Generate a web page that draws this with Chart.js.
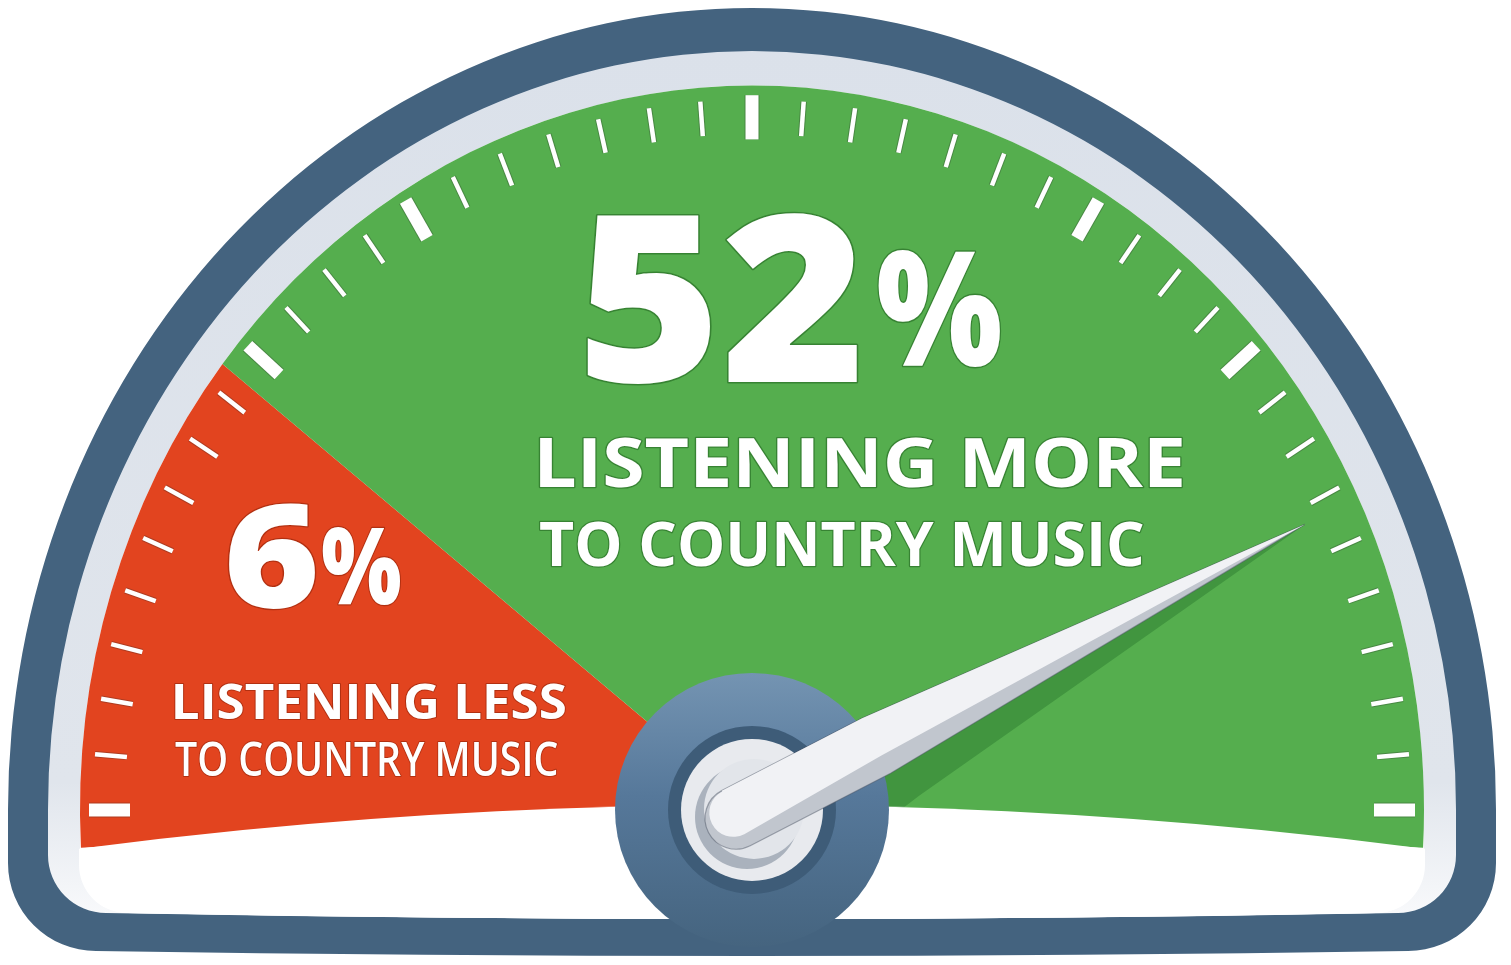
<!DOCTYPE html>
<html><head><meta charset="utf-8">
<script src="https://cdn.jsdelivr.net/npm/chart.js@4.4.1/dist/chart.umd.min.js"></script>
<style>html,body{margin:0;padding:0;background:#fff;overflow:hidden}canvas{display:block}</style>
</head><body>
<canvas id="c" width="1511" height="965"></canvas>
<script>
// ---- data ----
const categories = ['LISTENING LESS', 'LISTENING MORE'];
const subLabels = ['TO COUNTRY MUSIC', 'TO COUNTRY MUSIC'];
const shares = [6, 52];                 // percentages shown
const zoneArcDeg = [41, 145];           // red zone, green zone (degrees of dial face)
const needleDeg = 154.4;                // needle position on 0..180 dial
const tickCount = 41;                   // dial ticks, 4.5 deg apart
const tickStepDeg = 4.5;
const majorTicks = [0, 9, 13, 20, 27, 31, 40];

const zoneColors = ['#e2441f', '#55ae4e'];
const KY = 1.078;          // vertical stretch of the dial
const PAD_DEG = 3;         // face extends slightly below horizontal

function domePath(ctx, cx, cy, r, bottomY, sag, corner) {
  ctx.beginPath();
  ctx.ellipse(cx, cy, r, r * KY, 0, Math.PI, 2 * Math.PI, false);
  ctx.lineTo(cx + r, bottomY - corner);
  ctx.arcTo(cx + r, bottomY, cx + r - corner, bottomY, corner);
  ctx.quadraticCurveTo(cx, bottomY + 2 * sag, cx - r + corner, bottomY);
  ctx.arcTo(cx - r, bottomY, cx - r, bottomY - corner, corner);
  ctx.closePath();
}

function fitText(ctx, txt, l, t, r, b, weight, color, stroke, sw) {
  ctx.save();
  ctx.textAlign = 'left'; ctx.textBaseline = 'alphabetic';
  ctx.font = weight + ' 100px "Open Sans"';
  let m = ctx.measureText(txt);
  const h = m.actualBoundingBoxAscent + m.actualBoundingBoxDescent;
  const size = 100 * (b - t) / h;
  ctx.font = weight + ' ' + size.toFixed(2) + 'px "Open Sans"';
  m = ctx.measureText(txt);
  const w = m.actualBoundingBoxLeft + m.actualBoundingBoxRight;
  const sx = (r - l) / w;
  ctx.translate(l + m.actualBoundingBoxLeft * sx, t + m.actualBoundingBoxAscent);
  ctx.scale(sx, 1);
  if (stroke) { ctx.lineJoin = 'round'; ctx.lineWidth = sw; ctx.strokeStyle = stroke; ctx.strokeText(txt, 0, 0); }
  ctx.fillStyle = color; ctx.fillText(txt, 0, 0);
  ctx.restore();
}

function geom(chart) {
  const a = chart.getDatasetMeta(0).data[0];
  return { cx: a.x, cy: a.y, R: a.outerRadius };
}

const gaugePlugin = {
  id: 'gauge',
  beforeDatasetsDraw(chart) {
    const ctx = chart.ctx; const { cx, cy, R } = geom(chart);
    // dark bezel
    domePath(ctx, cx, cy, R + 72, 951, 5, 88);
    ctx.fillStyle = '#44637f'; ctx.fill();
    // light ring
    domePath(ctx, cx, cy, R + 32, 913, 6, 58);
    const lg = ctx.createLinearGradient(0, 40, 0, 913);
    lg.addColorStop(0, '#dbe1ea'); lg.addColorStop(0.85, '#e0e5ec'); lg.addColorStop(1, '#f8f9fb');
    ctx.fillStyle = lg; ctx.fill();
    // white face
    domePath(ctx, cx, cy, R, 913, 6, 48);
    ctx.fillStyle = '#ffffff'; ctx.fill();
    // stretch for the coloured face
    ctx.save();
    ctx.translate(cx, cy); ctx.scale(1, KY); ctx.translate(-cx, -cy);
  },
  afterDatasetsDraw(chart) {
    const ctx = chart.ctx;
    ctx.restore();
    const { cx, cy, R } = geom(chart);
    const th = Math.PI - needleDeg * Math.PI / 180;
    const rN = 613;
    const P = { x: cx, y: cy };
    const T = { x: cx + rN * Math.cos(th), y: cy - rN * Math.sin(th) * KY };
    const L = Math.hypot(T.x - P.x, T.y - P.y);
    const u = { x: (T.x - P.x) / L, y: (T.y - P.y) / L };
    const n = { x: -u.y, y: u.x };
    const pt = (a, b) => ({ x: P.x + u.x * a + n.x * b, y: P.y + u.y * a + n.y * b });

    // needle shadow on the face
    ctx.save();
    ctx.beginPath(); ctx.ellipse(cx, cy, R, R * KY, 0, Math.PI, 2 * Math.PI); ctx.closePath(); ctx.clip();
    ctx.beginPath();
    let q = pt(100, 24); ctx.moveTo(q.x, q.y);
    ctx.lineTo(T.x, T.y);
    q = pt(155, 64); ctx.lineTo(q.x, q.y);
    q = pt(100, 74); ctx.lineTo(q.x, q.y);
    ctx.closePath(); ctx.fillStyle = '#41953f'; ctx.fill();
    ctx.restore();

    // white area below the curved lower edge of the face
    ctx.save();
    domePath(ctx, cx, cy, R + 1, 913, 6, 48); ctx.clip();
    const BR = 5195;
    ctx.beginPath(); ctx.arc(cx, cy - 5 + BR, BR, 0, 2 * Math.PI);
    ctx.fillStyle = '#ffffff'; ctx.fill();
    ctx.restore();

    // dial ticks
    for (let i = 0; i < tickCount; i++) {
      const g = i * tickStepDeg * Math.PI / 180;
      const a = Math.PI - g;
      const major = majorTicks.includes(i);
      const r1 = major ? 622 : 627, r2 = major ? 663 : 659;
      const x1 = cx + r1 * Math.cos(a), y1 = cy - r1 * Math.sin(a) * KY;
      const x2 = cx + r2 * Math.cos(a), y2 = cy - r2 * Math.sin(a) * KY;
      const w = major ? 13 : 4.5;
      ctx.lineCap = 'butt';
      ctx.beginPath(); ctx.moveTo(x1, y1); ctx.lineTo(x2, y2);
      ctx.strokeStyle = 'rgba(40,40,40,0.28)'; ctx.lineWidth = w + 2; ctx.stroke();
      ctx.beginPath(); ctx.moveTo(x1, y1); ctx.lineTo(x2, y2);
      ctx.strokeStyle = '#ffffff'; ctx.lineWidth = w; ctx.stroke();
    }

    // texts
    const gS = 'rgba(20,80,20,0.45)', rS = 'rgba(120,25,0,0.45)';
    fitText(ctx, String(shares[1]), 587, 213, 857, 383, 800, '#fff', gS, 3);
    fitText(ctx, '%', 878, 250, 1000, 367, 800, '#fff', gS, 3);
    fitText(ctx, categories[1], 540, 437, 1182, 488, 700, '#fff', gS, 2.5);
    fitText(ctx, subLabels[1], 540, 521, 1143, 566, 700, '#fff', gS, 2.5);
    fitText(ctx, String(shares[0]), 228, 503, 315, 608, 800, '#fff', rS, 2.5);
    fitText(ctx, '%', 322, 527, 400, 604, 800, '#fff', rS, 2.5);
    fitText(ctx, categories[0], 175, 683, 565, 719, 700, '#fff', rS, 2);
    fitText(ctx, subLabels[0], 175, 741, 557, 775, 600, '#fff', rS, 2);

    // hub
    const hg = ctx.createLinearGradient(0, cy - 137, 0, cy + 137);
    hg.addColorStop(0, '#7494b2'); hg.addColorStop(0.45, '#56789a'); hg.addColorStop(1, '#45647f');
    ctx.beginPath(); ctx.arc(cx, cy, 137, 0, 2 * Math.PI); ctx.fillStyle = hg; ctx.fill();
    ctx.beginPath(); ctx.arc(cx, cy, 84, 0, 2 * Math.PI); ctx.fillStyle = '#3e5c78'; ctx.fill();
    ctx.beginPath(); ctx.arc(cx, cy, 71, 0, 2 * Math.PI); ctx.fillStyle = '#e8eaee'; ctx.fill();
    ctx.beginPath(); ctx.arc(cx - 5, cy + 7, 52, 0, 2 * Math.PI); ctx.fillStyle = '#aab2bd'; ctx.fill();
    ctx.beginPath(); ctx.arc(cx + 2, cy - 1, 50, 0, 2 * Math.PI); ctx.fillStyle = '#e2e5ea'; ctx.fill();

    // needle
    const Bc = pt(-18, 0);
    const A = 140, W = 31;
    ctx.beginPath();
    let s = pt(-18, -W); ctx.moveTo(s.x, s.y);
    s = pt(A, -W); ctx.lineTo(s.x, s.y);
    ctx.lineTo(T.x, T.y);
    s = pt(A, W); ctx.lineTo(s.x, s.y);
    s = pt(-18, W); ctx.lineTo(s.x, s.y);
    const ang = Math.atan2(n.y, n.x);
    ctx.arc(Bc.x, Bc.y, W, ang, ang + Math.PI, false);
    ctx.closePath();
    ctx.fillStyle = '#c1c6ce'; ctx.fill();
    ctx.strokeStyle = 'rgba(70,80,95,0.45)'; ctx.lineWidth = 1.2; ctx.stroke();
    // light upper face
    ctx.beginPath();
    s = pt(-18, -W); ctx.moveTo(s.x, s.y);
    s = pt(A, -W); ctx.lineTo(s.x, s.y);
    ctx.lineTo(T.x, T.y);
    s = pt(A, 11); ctx.lineTo(s.x, s.y);
    s = pt(-18, 18); ctx.lineTo(s.x, s.y);
    const c2 = pt(-18, -6);
    ctx.arc(c2.x, c2.y, 24, ang, ang + Math.PI, false);
    ctx.closePath();
    ctx.fillStyle = '#f1f2f5'; ctx.fill();
  }
};

function build() {
  new Chart(document.getElementById('c'), {
    type: 'doughnut',
    data: {
      labels: categories,
      datasets: [{
        data: zoneArcDeg,
        backgroundColor: zoneColors,
        borderWidth: 0,
        clip: false
      }]
    },
    options: {
      responsive: false,
      animation: false,
      events: [],
      cutout: 0,
      radius: 672,
      rotation: -90 - PAD_DEG,
      circumference: zoneArcDeg.reduce((a, b) => a + b, 0),
      layout: { padding: { top: 18, right: 7, left: 0, bottom: 0 } },
      plugins: { legend: { display: false }, tooltip: { enabled: false } }
    },
    plugins: [gaugePlugin]
  });
}
const fl = document.fonts ? Promise.all([
  document.fonts.load('800 100px "Open Sans"'),
  document.fonts.load('700 100px "Open Sans"'),
  document.fonts.load('600 100px "Open Sans"')
]).catch(() => {}) : Promise.resolve();
Promise.race([fl, new Promise(r => setTimeout(r, 800))]).then(build);
</script>
</body></html>
